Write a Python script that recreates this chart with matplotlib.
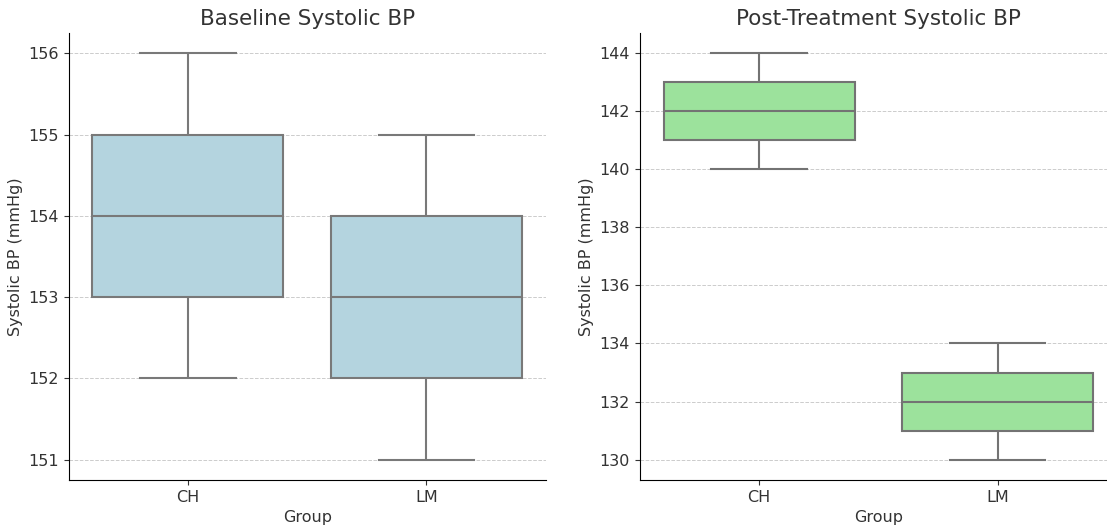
import numpy as np
import pandas as pd
import matplotlib
matplotlib.use("Agg")
import matplotlib.pyplot as plt
import seaborn as sns

groups = ["CH", "LM"]
baseline_ch = [152, 153, 154, 155, 156]
baseline_lm = [151, 152, 153, 154, 155]
post_ch = [140, 141, 142, 143, 144]
post_lm = [130, 131, 132, 133, 134]

df = pd.DataFrame({
    "Group": ["CH"] * len(baseline_ch) + ["LM"] * len(baseline_lm),
    "Baseline": baseline_ch + baseline_lm,
    "Post": post_ch + post_lm,
})

fig = plt.figure(figsize=(11.07, 5.25), dpi=100)
ax1 = fig.add_axes([0.062, 0.086, 0.431, 0.851])
ax2 = fig.add_axes([0.578, 0.086, 0.431, 0.851])
axes = [ax1, ax2]

sns.boxplot(x="Group", y="Baseline", data=df, order=groups, color="lightblue",
            width=0.8, linewidth=1.5, ax=ax1)
ax1.set_title("Baseline Systolic BP", fontsize=15.5, color="#333333")

sns.boxplot(x="Group", y="Post", data=df, order=groups, color="lightgreen",
            width=0.8, linewidth=1.5, ax=ax2)
ax2.set_title("Post-Treatment Systolic BP", fontsize=15.5, color="#333333")

for ax in axes:
    ax.set_xlabel("Group", fontsize=11.5, color="#333333")
    ax.set_ylabel("Systolic BP (mmHg)", fontsize=11.5, color="#333333")
    ax.tick_params(labelsize=11.5, colors="#333333")
    ax.yaxis.grid(True, linestyle="--", color="#cccccc", linewidth=0.7)
    ax.set_axisbelow(True)
    ax.spines["top"].set_visible(False)
    ax.spines["right"].set_visible(False)

plt.savefig("out.png", dpi=100)
